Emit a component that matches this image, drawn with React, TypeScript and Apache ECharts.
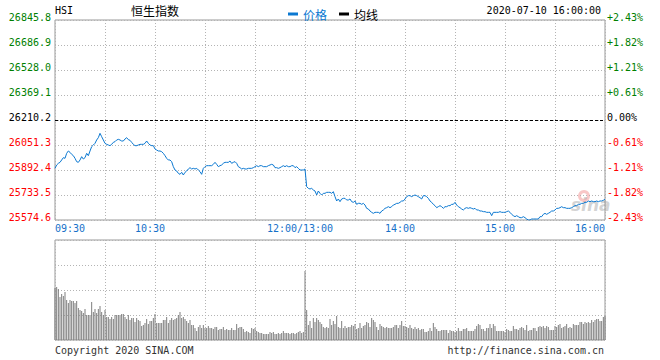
import React, { useEffect, useRef } from 'react';
import * as echarts from 'echarts';

// ---- data ----
const PREV_CLOSE = 26210.2;
const Y_STEP = 158.9;
const xLabelIdx = [0, 60, 150, 210, 270, 330];
const xLabelText = ['09:30', '10:30', '12:00/13:00', '14:00', '15:00', '16:00'];

// price per minute, 09:30 .. 11:20 (index 0..110)
const priceA = [
  25903.0, 25924.2, 25934.8, 25941.1, 25956.0, 25970.8, 25966.6, 25998.3, 26013.2, 26004.7,
  25992.0, 25983.5, 25966.6, 25945.4, 25941.1, 25956.0, 25977.1, 25962.3, 25970.8, 25998.3,
  25983.5, 26013.2, 26040.7, 26051.3, 26061.9, 26083.1, 26097.9, 26125.5, 26104.3, 26083.1,
  26061.9, 26055.5, 26051.3, 26047.1, 26055.5, 26068.2, 26072.5, 26083.1, 26087.3, 26083.1,
  26076.7, 26076.7, 26089.4, 26097.9, 26085.2, 26081.0, 26068.2, 26055.5, 26047.1, 26047.1,
  26051.3, 26055.5, 26055.5, 26055.5, 26061.9, 26076.7, 26061.9, 26051.3, 26047.1, 26047.1,
  26025.9, 26019.5, 26013.2, 26013.2, 26008.9, 25998.3, 25983.5, 25966.6, 25956.0, 25956.0,
  25945.4, 25913.6, 25892.4, 25886.1, 25871.2, 25864.9, 25877.6, 25860.6, 25877.6, 25886.1,
  25898.8, 25907.2, 25898.8, 25903.0, 25898.8, 25903.0, 25892.4, 25881.8, 25864.9, 25903.0,
  25913.6, 25919.9, 25919.9, 25919.9, 25919.9, 25928.4, 25941.1, 25928.4, 25913.6, 25919.9,
  25924.2, 25934.8, 25941.1, 25941.1, 25941.1, 25949.6, 25934.8, 25941.1, 25945.4, 25934.8,
  25913.6,
];
// index 111..220
const priceB = [
  25907.2, 25898.8, 25903.0, 25898.8, 25898.8, 25903.0, 25903.0, 25903.0, 25907.2, 25913.6,
  25919.9, 25913.6, 25919.9, 25919.9, 25913.6, 25913.6, 25913.6, 25919.9, 25924.2, 25928.4,
  25924.2, 25907.2, 25907.2, 25903.0, 25907.2, 25913.6, 25919.9, 25913.6, 25919.9, 25913.6,
  25913.6, 25919.9, 25919.9, 25907.2, 25913.6, 25903.0, 25892.4, 25892.4, 25892.4, 25898.8,
  25786.5, 25775.9, 25771.6, 25775.9, 25765.3, 25758.9, 25733.5, 25758.9, 25744.1, 25733.5,
  25744.1, 25744.1, 25750.4, 25750.4, 25750.4, 25744.1, 25754.7, 25722.9, 25695.4, 25708.1,
  25691.1, 25708.1, 25712.3, 25712.3, 25701.7, 25701.7, 25708.1, 25691.1, 25686.9, 25695.4,
  25674.2, 25680.5, 25680.5, 25674.2, 25680.5, 25669.9, 25648.7, 25644.5, 25631.8, 25623.3,
  25616.9, 25623.3, 25623.3, 25623.3, 25616.9, 25631.8, 25638.2, 25648.7, 25653.0, 25659.3,
  25653.0, 25659.3, 25669.9, 25674.2, 25680.5, 25680.5, 25686.9, 25695.4, 25695.4, 25708.1,
  25722.9, 25729.3, 25729.3, 25722.9, 25729.3, 25733.5, 25729.3, 25722.9, 25716.5, 25708.1,
];
// index 221..330
const priceC = [
  25729.3, 25729.3, 25722.9, 25712.3, 25695.4, 25686.9, 25674.2, 25665.7, 25653.0, 25659.3,
  25665.7, 25659.3, 25648.7, 25659.3, 25659.3, 25665.7, 25665.7, 25674.2, 25674.2, 25686.9,
  25669.9, 25659.3, 25653.0, 25644.5, 25638.2, 25648.7, 25653.0, 25648.7, 25653.0, 25648.7,
  25644.5, 25648.7, 25638.2, 25638.2, 25631.8, 25631.8, 25627.6, 25627.6, 25623.3, 25623.3,
  25623.3, 25602.1, 25623.3, 25623.3, 25623.3, 25623.3, 25627.6, 25623.3, 25623.3, 25623.3,
  25627.6, 25631.8, 25623.3, 25610.6, 25602.1, 25595.8, 25602.1, 25595.8, 25589.4, 25589.4,
  25595.8, 25589.4, 25580.9, 25574.6, 25574.6, 25580.9, 25580.9, 25580.9, 25580.9, 25580.9,
  25595.8, 25595.8, 25610.6, 25616.9, 25610.6, 25616.9, 25623.3, 25631.8, 25631.8, 25638.2,
  25648.7, 25648.7, 25653.0, 25659.3, 25653.0, 25653.0, 25648.7, 25648.7, 25648.7, 25653.0,
  25659.3, 25665.7, 25665.7, 25674.2, 25674.2, 25680.5, 25680.5, 25686.9, 25686.9, 25695.4,
  25691.1, 25695.4, 25691.1, 25691.1, 25695.4, 25691.1, 25695.4, 25695.4, 25699.6, 25705.9,
];

// volume per minute (relative units), index 0..110
const volA = [
  52,
  53, 51, 43, 46, 44, 48, 40, 37, 40, 39,
  39, 37, 39, 32, 30, 29, 27, 31, 25, 25,
  25, 38, 28, 31, 27, 31, 34, 28, 25, 30,
  23, 23, 21, 23, 21, 25, 25, 25, 25, 26,
  26, 23, 21, 25, 20, 22, 22, 18, 22, 20,
  19, 14, 15, 17, 21, 16, 19, 19, 22, 26,
  17, 17, 17, 17, 20, 20, 23, 17, 20, 22,
  20, 21, 22, 25, 28, 22, 23, 21, 19, 17,
  20, 15, 15, 12, 9, 13, 15, 12, 15, 12,
  12, 14, 12, 12, 11, 13, 13, 10, 11, 11,
  13, 10, 11, 10, 10, 12, 10, 10, 16, 12,
];
// index 111..220
const volB = [
  13, 13, 11, 8, 9, 8, 7, 12, 11, 12,
  9, 8, 7, 7, 6, 6, 6, 6, 8, 7,
  8, 6, 6, 7, 6, 7, 9, 7, 7, 7,
  6, 7, 7, 6, 7, 8, 9, 7, 8, 69,
  30, 15, 19, 12, 22, 18, 22, 20, 18, 16,
  13, 12, 13, 12, 21, 15, 19, 16, 24, 13,
  12, 19, 12, 14, 12, 13, 13, 15, 14, 16,
  11, 12, 17, 12, 14, 15, 18, 17, 13, 22,
  20, 18, 13, 10, 16, 14, 13, 12, 13, 12,
  12, 12, 13, 15, 15, 12, 15, 19, 14, 14,
  13, 12, 15, 12, 11, 13, 11, 12, 10,
  11,
];
// index 221..330
const volC = [
  11, 8, 8, 9, 12, 9, 17, 13, 11, 9,
  9, 10, 10, 10, 10, 7, 10, 9, 9, 8,
  9, 12, 9, 9, 11, 11, 12, 9, 9, 9,
  9, 11, 14, 16, 15, 11, 11, 9, 12, 12,
  16, 12, 16, 14, 9, 9, 9, 9, 9, 8,
  11, 10, 9, 9, 14, 11, 11, 10, 12, 13,
  12, 10, 15, 9, 10, 10, 12, 12, 9, 13,
  14, 13, 14, 12, 14, 13, 10, 10, 10, 14,
  13, 15, 16, 12, 13, 14, 16, 12, 13, 12,
  16, 15, 15, 15, 18, 18, 16, 18, 17, 18,
  17, 20, 18, 20, 21, 21, 19, 19, 23, 24,
];

const price = [...priceA, ...priceB, ...priceC];
const volume = [...volA, ...volB, ...volC];

const MONO = '"DejaVu Sans Mono", monospace';
const CJK = '"Noto Sans CJK SC", sans-serif';
const BLUE = '#0b78d1';
const LABEL_BLUE = '#1671c9';
const GREEN = '#008000';
const RED = '#ff0000';
const GRID_LINE = { show: true, lineStyle: { color: '#b4b4b4', type: [1, 2] as any, width: 1 } };

export default function App() {
  const ref = useRef<HTMLDivElement>(null);
  useEffect(() => {
    if (!ref.current) return;
    const chart = echarts.init(ref.current, undefined, { renderer: 'svg' });
    const lim = 4 * Y_STEP;
    const lblStyle = (color: string) => ({ color, fontFamily: MONO, fontSize: 10, padding: [0, 0, 5, 0] });
    const option: any = {
      animation: false,
      backgroundColor: '#fff',
      grid: [
        { left: 55, top: 20, width: 550, height: 200, show: true, borderColor: '#999', borderWidth: 1 },
        { left: 55, top: 240, width: 550, height: 100, show: true, borderColor: '#999', borderWidth: 1 },
      ],
      legend: {
        left: 283,
        top: 3,
        icon: 'rect',
        itemWidth: 10,
        itemHeight: 3,
        itemGap: 12,
        textStyle: { fontFamily: CJK, fontSize: 12 },
        data: [
          { name: '价格', textStyle: { color: BLUE } },
          { name: '均线', textStyle: { color: '#000' } },
        ],
      },
      xAxis: [
        {
          type: 'value', gridIndex: 0, min: 0, max: 330, interval: 30,
          axisLine: { show: false }, axisTick: { show: false }, splitLine: GRID_LINE,
          axisLabel: {
            margin: 3,
            showMinLabel: true, showMaxLabel: true,
            alignMinLabel: 'left', alignMaxLabel: 'right',
            formatter: (v: number) => {
              const k = xLabelIdx.indexOf(Math.round(v));
              if (k < 0) return '';
              const t = xLabelText[k];
              return k === 0 || k === xLabelIdx.length - 1 ? `{e|${t}}` : `{m|${t}}`;
            },
            rich: {
              e: { color: LABEL_BLUE, fontFamily: MONO, fontSize: 10 },
              m: { color: LABEL_BLUE, fontFamily: MONO, fontSize: 10, padding: [0, 10, 0, 0] },
            },
          },
        },
        {
          type: 'value', gridIndex: 1, min: 0, max: 330, interval: 30,
          axisLine: { show: false }, axisTick: { show: false }, axisLabel: { show: false }, splitLine: GRID_LINE,
        },
      ],
      yAxis: [
        {
          type: 'value', gridIndex: 0, position: 'left', min: -lim, max: lim, interval: Y_STEP,
          axisLine: { show: false }, axisTick: { show: false }, splitLine: GRID_LINE,
          axisLabel: {
            margin: 4,
            showMinLabel: true, showMaxLabel: true,
            formatter: (v: number) => {
              const s = (v + PREV_CLOSE).toFixed(1);
              const tag = v > 0.05 ? 'g' : v < -0.05 ? 'r' : 'k';
              return `{${tag}|${s}}`;
            },
            rich: { g: lblStyle(GREEN), r: lblStyle(RED), k: lblStyle('#000') },
          },
        },
        {
          type: 'value', gridIndex: 0, position: 'right', min: -lim, max: lim, interval: Y_STEP,
          axisLine: { show: false }, axisTick: { show: false }, splitLine: { show: false },
          axisLabel: {
            margin: 2,
            showMinLabel: true, showMaxLabel: true,
            formatter: (v: number) => {
              const p = (v / PREV_CLOSE) * 100;
              if (Math.abs(v) < 0.05) return '{k|0.00%}';
              return p > 0 ? `{g|+${p.toFixed(2)}%}` : `{r|-${Math.abs(p).toFixed(2)}%}`;
            },
            rich: { g: lblStyle(GREEN), r: lblStyle(RED), k: lblStyle('#000') },
          },
        },
        {
          type: 'value', gridIndex: 1, min: 0, max: 100, interval: 25,
          axisLine: { show: false }, axisTick: { show: false }, axisLabel: { show: false }, splitLine: GRID_LINE,
        },
      ],
      graphic: [
        { type: 'text', x: 55, y: 10, style: { text: 'HSI', fontFamily: MONO, fontSize: 10, fill: '#000', textAlign: 'left', textVerticalAlign: 'middle' } },
        { type: 'text', x: 131, y: 10, style: { text: '恒生指数', fontFamily: CJK, fontSize: 12, fill: '#000', textAlign: 'left', textVerticalAlign: 'middle' } },
        { type: 'text', x: 601, y: 10, style: { text: '2020-07-10 16:00:00', fontFamily: MONO, fontSize: 10, fill: '#000', textAlign: 'right', textVerticalAlign: 'middle' } },
        { type: 'text', x: 55, y: 350, style: { text: 'Copyright 2020 SINA.COM', fontFamily: MONO, fontSize: 10, fill: '#333', textAlign: 'left', textVerticalAlign: 'middle' } },
        { type: 'text', x: 604, y: 350, style: { text: 'http://finance.sina.com.cn', fontFamily: MONO, fontSize: 10, fill: '#333', textAlign: 'right', textVerticalAlign: 'middle' } },
        {
          type: 'group', x: 570, y: 188, z: 0, silent: true,
          children: [
            { type: 'ring', shape: { cx: 14, cy: 8, r: 6, r0: 3 }, style: { fill: 'rgba(240,130,130,0.45)' } },
            { type: 'text', x: 1, y: 8, style: { text: 'sina', fontFamily: '"DejaVu Sans", sans-serif', fontSize: 17, fontStyle: 'italic', fontWeight: 'bold', fill: 'rgba(130,130,130,0.35)' } },
          ],
        },
      ],
      series: [
        {
          name: '价格', type: 'line', xAxisIndex: 0, yAxisIndex: 0,
          data: price.map((v, i) => [i, +(v - PREV_CLOSE).toFixed(1)]),
          showSymbol: false, symbol: 'none',
          lineStyle: { color: BLUE, width: 1 }, itemStyle: { color: BLUE },
          markLine: {
            silent: true, symbol: 'none', label: { show: false },
            lineStyle: { color: '#000', type: [3, 2], width: 1 },
            data: [{ yAxis: 0 }],
          },
          z: 3,
        },
        {
          name: '均线', type: 'line', xAxisIndex: 0, yAxisIndex: 0, data: [],
          showSymbol: false, lineStyle: { color: '#000', width: 1 }, itemStyle: { color: '#000' },
        },
        {
          name: '成交量', type: 'bar', xAxisIndex: 1, yAxisIndex: 2,
          data: volume.map((v, i) => [i, v]),
          barWidth: 1, itemStyle: { color: '#7e7e7e' },
        },
      ],
    };
    chart.setOption(option);
    return () => chart.dispose();
  }, []);
  return <div ref={ref} style={{ position: 'fixed', left: 0, top: 0, width: 660, height: 360, background: '#fff' }} />;
}
